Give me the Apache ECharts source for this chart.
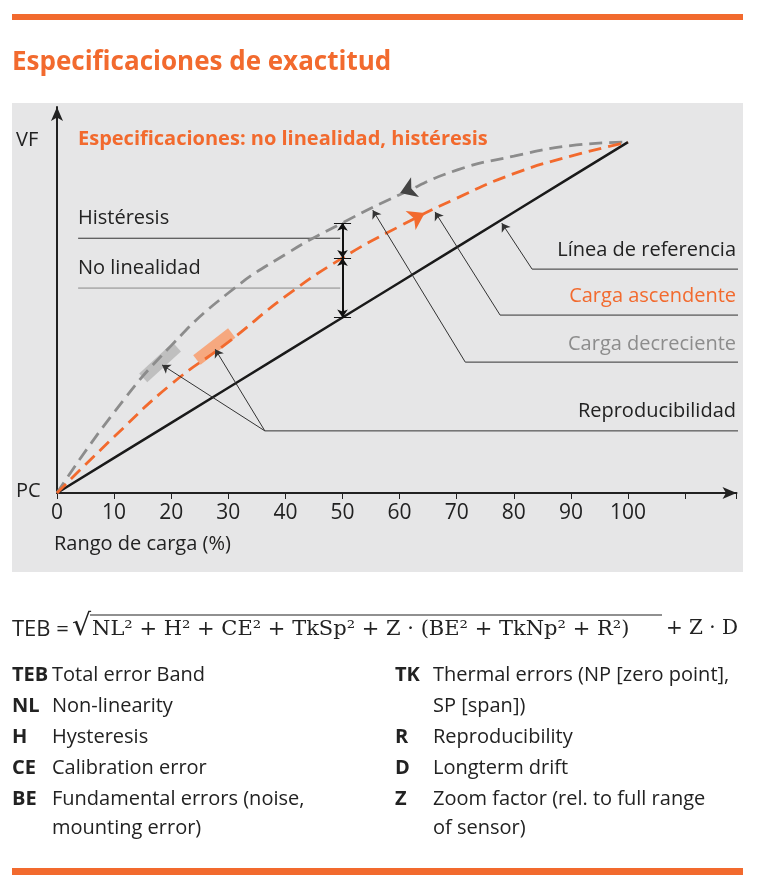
<!DOCTYPE html>
<html>
<head>
<meta charset="utf-8">
<script src="https://cdn.jsdelivr.net/npm/echarts@6/dist/echarts.min.js"></script>
<style>html,body{margin:0;padding:0;background:#fff}#main{width:758px;height:884px}</style>
</head>
<body>
<div id="main"></div>
<script>
var ORANGE = '#f26a2e';
var GREY = '#8c8c8c';
var FONT = '"Liberation Sans Narrow", "Open Sans", sans-serif';

// load range (%) and output readings
var loadPct   = [0, 10, 20, 30, 40, 50, 60, 70, 80, 90, 100];
var refLine   = [0, 10, 20, 30, 40, 50, 60, 70, 80, 90, 100];
var ascending = [0, 16, 31, 43, 56, 67, 76, 84, 91, 96, 100];
var descending= [0, 23, 42, 57, 68, 77, 85, 92, 96, 99, 100];
var xTicks    = [0, 10, 20, 30, 40, 50, 60, 70, 80, 90, 100];

// annotation leader lines (data coords)
var leaders = [
    [[119.3, 63.8], [83.2, 63.8], [77.9, 76.9]],   // referencia
    [[119.3, 50.7], [77.6, 50.7], [66.2, 80.1]],   // ascendente
    [[119.3, 37.3], [71.5, 37.3], [55.3, 80.6]],   // decreciente
    [[119.3, 17.7], [36.4, 17.7], [18.4, 36.5]],   // reproducibilidad
    [[36.4, 17.7], [27.7, 41.0]]
];
var hystLine = [[3.7, 72.6], [49.6, 72.6]];
var nonlinLine = [[3.7, 58.4], [49.6, 58.4]];
var greyBand = [[15.1, 32.8], [21.0, 41.6]];
var orangeBand = [[24.5, 37.9], [30.6, 45.6]];

function pairs(ys) { return loadPct.map(function (x, i) { return [x, ys[i]]; }); }

var legendLeft = [['TEB', 'Total error Band'], ['NL', 'Non-linearity'], ['H', 'Hysteresis'],
    ['CE', 'Calibration error'], ['BE', 'Fundamental errors (noise,'], ['', 'mounting error)']];
var legendRight = [['TK', 'Thermal errors (NP [zero point],'], ['', 'SP [span])'], ['R', 'Reproducibility'],
    ['D', 'Longterm drift'], ['Z', 'Zoom factor (rel. to full range'], ['', 'of sensor)']];

var graphics = [
    { type: 'rect', shape: { x: 12, y: 14, width: 731, height: 6 }, style: { fill: ORANGE } },
    { type: 'rect', shape: { x: 12, y: 868, width: 731, height: 7 }, style: { fill: ORANGE } },
    { type: 'rect', z: -10, shape: { x: 12, y: 103, width: 731, height: 469 }, style: { fill: '#e6e6e7' } },
    { type: 'text', style: { x: 12, y: 50, text: 'Especificaciones de exactitud', fill: ORANGE, font: 'bold 26px ' + FONT } },
    { type: 'text', style: { x: 78, y: 129, text: 'Especificaciones: no linealidad, histéresis', fill: ORANGE, font: 'bold 20px ' + FONT } },
    { type: 'text', style: { x: 16, y: 130, text: 'VF', fill: '#222', font: '20px ' + FONT } },
    { type: 'text', style: { x: 16, y: 481, text: 'PC', fill: '#222', font: '20px ' + FONT } },
    { type: 'text', style: { x: 78, y: 208, text: 'Histéresis', fill: '#222', font: '20px ' + FONT } },
    { type: 'text', style: { x: 78, y: 258, text: 'No linealidad', fill: '#222', font: '20px ' + FONT } },
    { type: 'text', style: { x: 736, y: 240, text: 'Línea de referencia', fill: '#222', font: '20px ' + FONT, align: 'right' } },
    { type: 'text', style: { x: 736, y: 286, text: 'Carga ascendente', fill: ORANGE, font: '20px ' + FONT, align: 'right' } },
    { type: 'text', style: { x: 736, y: 334, text: 'Carga decreciente', fill: GREY, font: '20px ' + FONT, align: 'right' } },
    { type: 'text', style: { x: 736, y: 401, text: 'Reproducibilidad', fill: '#222', font: '20px ' + FONT, align: 'right' } },
    { type: 'text', style: { x: 54, y: 534, text: 'Rango de carga (%)', fill: '#222', font: '20px ' + FONT } },
    // formula
    { type: 'text', style: { x: 12, y: 619, text: 'TEB =', fill: '#222', font: '22px ' + FONT } },
    { type: 'text', style: { x: 72, y: 612, text: '√', fill: '#222', font: '30px "DejaVu Serif", serif' } },
    { type: 'line', shape: { x1: 90, y1: 615, x2: 662, y2: 615 }, style: { stroke: '#222', lineWidth: 1.2 } },
    { type: 'text', style: { x: 92, y: 619, text: 'NL² + H² + CE² + TkSp² + Z · (BE² + TkNp² + R²)', fill: '#222', font: '21px "DejaVu Serif", serif' } },
    { type: 'text', style: { x: 666, y: 619, text: '+ Z · D', fill: '#222', font: '20px "DejaVu Serif", serif' } }
];
var rowY = [665, 696, 727, 758, 789, 818];
legendLeft.forEach(function (r, i) {
    graphics.push({ type: 'text', style: { x: 12, y: rowY[i], text: r[0], fill: '#222', font: 'bold 20px ' + FONT } });
    graphics.push({ type: 'text', style: { x: 52, y: rowY[i], text: r[1], fill: '#222', font: '20px ' + FONT } });
});
legendRight.forEach(function (r, i) {
    graphics.push({ type: 'text', style: { x: 395, y: rowY[i], text: r[0], fill: '#222', font: 'bold 20px ' + FONT } });
    graphics.push({ type: 'text', style: { x: 433, y: rowY[i], text: r[1], fill: '#222', font: '20px ' + FONT } });
});

var leaderLines = [];
leaders.forEach(function (pts) {
    leaderLines.push({ coords: pts.slice(-2) });
});

var option = {
    backgroundColor: '#FFFFFF',
    animation: false,
    graphic: graphics,
    grid: { left: 57, right: 21.5, top: 107, bottom: 391 },
    xAxis: {
        type: 'value', min: 0, max: 119, interval: 10,
        axisLine: { lineStyle: { color: '#222', width: 2 }, symbol: ['none', 'arrow'], symbolSize: [9, 14] },
        axisTick: { show: true, length: 6, inside: false, lineStyle: { color: '#222' } },
        splitLine: { show: false },
        axisLabel: {
            color: '#222', fontSize: 21, fontFamily: FONT, margin: 10,
            formatter: function (v) { return xTicks.indexOf(v) >= 0 ? v : ''; }
        }
    },
    yAxis: {
        type: 'value', min: 0, max: 110,
        axisLine: { show: true, lineStyle: { color: '#222', width: 2 }, symbol: ['none', 'arrow'], symbolSize: [9, 14] },
        axisTick: { show: false }, splitLine: { show: false }, axisLabel: { show: false }
    },
    series: [
        { type: 'line', data: greyBand, symbol: 'none', silent: true, z: 1, lineStyle: { color: '#b5b5b5', width: 12, opacity: 0.8 } },
        { type: 'line', data: orangeBand, symbol: 'none', silent: true, z: 1, lineStyle: { color: '#f7a173', width: 12, opacity: 0.9 } },
        { type: 'line', data: pairs(refLine), symbol: 'none', z: 4, lineStyle: { color: '#1a1a1a', width: 2.5 } },
        { type: 'line', data: pairs(descending), symbol: 'none', smooth: true, z: 4, lineStyle: { color: GREY, width: 2.8, type: [13, 7] } },
        { type: 'line', data: pairs(ascending), symbol: 'none', smooth: true, z: 4, lineStyle: { color: ORANGE, width: 2.8, type: [13, 7] } },
        { type: 'line', data: hystLine, symbol: 'none', z: 3, lineStyle: { color: '#333', width: 1 } },
        { type: 'line', data: nonlinLine, symbol: 'none', z: 3, lineStyle: { color: '#888', width: 1 } },
        { type: 'line', data: leaders[0].slice(0, 2), symbol: 'none', z: 3, lineStyle: { color: '#333', width: 1 } },
        { type: 'line', data: leaders[1].slice(0, 2), symbol: 'none', z: 3, lineStyle: { color: '#333', width: 1 } },
        { type: 'line', data: leaders[2].slice(0, 2), symbol: 'none', z: 3, lineStyle: { color: '#333', width: 1 } },
        { type: 'line', data: leaders[3].slice(0, 2), symbol: 'none', z: 3, lineStyle: { color: '#333', width: 1 } },
        {
            type: 'lines', coordinateSystem: 'cartesian2d', z: 5, silent: true,
            symbol: ['none', 'arrow'], symbolSize: 8,
            lineStyle: { color: '#333', width: 1, opacity: 1 },
            data: leaderLines
        },
        {
            type: 'lines', coordinateSystem: 'cartesian2d', z: 5, silent: true,
            symbol: ['arrow', 'arrow'], symbolSize: 8,
            lineStyle: { color: '#111', width: 2, opacity: 1 },
            data: [{ coords: [[50, 77], [50, 67]] }, { coords: [[50, 67], [50, 50]] }]
        },
        {
            type: 'lines', coordinateSystem: 'cartesian2d', z: 5, silent: true,
            symbol: ['none', 'arrow'], symbolSize: 16,
            lineStyle: { width: 0.1, opacity: 1 },
            data: [
                { coords: [[64.4, 88.3], [60.1, 85.5]], lineStyle: { color: '#444' } },
                { coords: [[60.1, 76.1], [64.4, 79.8]], lineStyle: { color: ORANGE } }
            ]
        },
        {
            type: 'lines', coordinateSystem: 'cartesian2d', z: 5, silent: true, symbol: 'none',
            lineStyle: { color: '#111', width: 1, opacity: 1 },
            data: [
                { coords: [[48.5, 77], [51.5, 77]] }, { coords: [[48.5, 67], [51.5, 67]] }, { coords: [[48.5, 50], [51.5, 50]] }
            ]
        }
    ]
};

var chart = echarts.init(document.getElementById('main'));
chart.setOption(option);
</script>
</body>
</html>
